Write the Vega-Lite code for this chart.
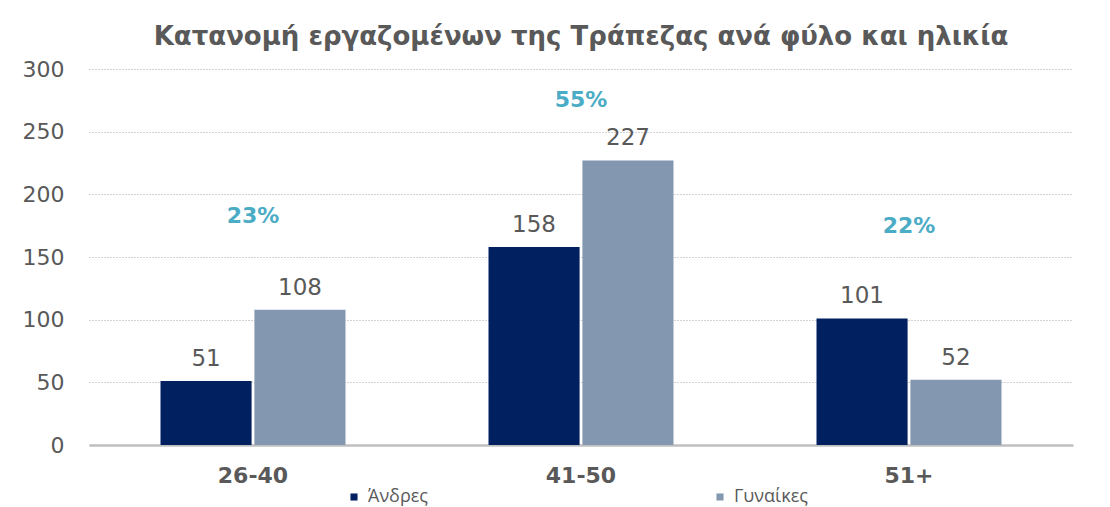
{
  "$schema": "https://vega.github.io/schema/vega-lite/v6.json",
  "width": 984,
  "height": 376,
  "padding": {"left": 22, "top": 24, "right": 36, "bottom": 0},
  "background": "white",
  "title": {
    "text": "Κατανομή εργαζομένων της Τράπεζας ανά φύλο και ηλικία",
    "font": "DejaVu Sans",
    "fontSize": 26,
    "fontWeight": "bold",
    "color": "#595959",
    "anchor": "middle",
    "offset": 8
  },
  "config": {
    "view": {"stroke": null},
    "font": "DejaVu Sans"
  },
  "layer": [
    {
      "data": {
        "values": [
          {"age": "26-40", "gender": "Άνδρες", "count": 51},
          {"age": "26-40", "gender": "Γυναίκες", "count": 108},
          {"age": "41-50", "gender": "Άνδρες", "count": 158},
          {"age": "41-50", "gender": "Γυναίκες", "count": 227},
          {"age": "51+", "gender": "Άνδρες", "count": 101},
          {"age": "51+", "gender": "Γυναίκες", "count": 52}
        ]
      },
      "layer": [
        {
          "mark": {"type": "bar"},
          "encoding": {
            "x": {
              "field": "age", "type": "nominal", "sort": null,
              "scale": {"paddingInner": 0.436, "paddingOuter": 0.218},
              "axis": {
                "title": null, "labelAngle": 0, "labelFontSize": 22, "labelFontWeight": "bold",
                "labelColor": "#595959", "labelPadding": 20, "ticks": false,
                "domainColor": "#BFBFBF", "domainWidth": 2.5
              }
            },
            "xOffset": {"field": "gender", "type": "nominal", "sort": null, "scale": {"paddingInner": 0.03}},
            "y": {
              "field": "count", "type": "quantitative",
              "scale": {"domain": [0, 300]},
              "axis": {
                "title": null, "values": [0, 50, 100, 150, 200, 250, 300],
                "labelFontSize": 22, "labelColor": "#595959", "labelPadding": 25,
                "ticks": false, "domain": false,
                "gridColor": "#A6A6A6", "gridDash": [1, 2], "gridWidth": 1
              }
            },
            "color": {
              "field": "gender", "type": "nominal", "sort": null,
              "scale": {"domain": ["Άνδρες", "Γυναίκες"], "range": ["#002060", "#8497B0"]},
              "legend": {
                "title": null, "orient": "none", "direction": "horizontal",
                "legendX": 256, "legendY": 419,
                "symbolType": "square", "symbolSize": 50, "symbolStrokeWidth": 0,
                "labelFontSize": 18, "labelColor": "#595959", "labelFont": "Open Sans",
                "labelOffset": 5, "columnPadding": 282
              }
            }
          }
        },
        {
          "mark": {"type": "text", "baseline": "bottom", "dy": -10, "fontSize": 23, "color": "#595959"},
          "encoding": {
            "x": {"field": "age", "type": "nominal", "sort": null},
            "xOffset": {"field": "gender", "type": "nominal", "sort": null},
            "y": {"field": "count", "type": "quantitative"},
            "text": {"field": "count", "type": "quantitative"}
          }
        }
      ]
    },
    {
      "data": {
        "values": [
          {"age": "26-40", "pct": "23%", "pos": 183},
          {"age": "41-50", "pct": "55%", "pos": 275},
          {"age": "51+", "pct": "22%", "pos": 175}
        ]
      },
      "mark": {"type": "text", "fontSize": 22, "fontWeight": "bold", "color": "#4BACC6", "baseline": "middle"},
      "encoding": {
        "x": {"field": "age", "type": "nominal", "sort": null},
        "y": {"field": "pos", "type": "quantitative"},
        "text": {"field": "pct"}
      }
    }
  ]
}
